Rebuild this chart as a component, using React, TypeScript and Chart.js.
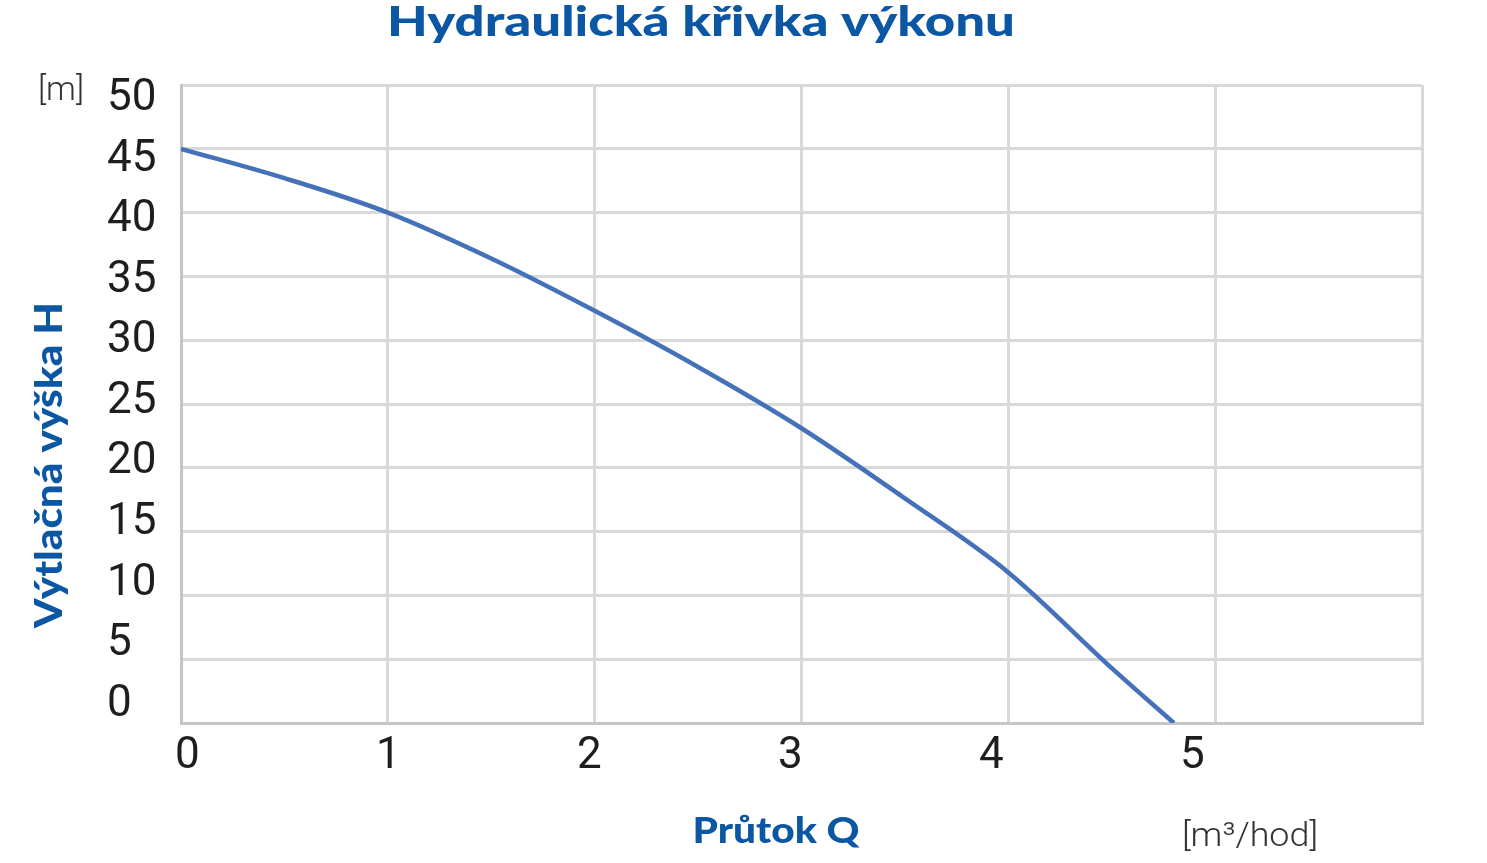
import React, { useEffect, useRef } from 'react';
import { Chart, registerables } from 'chart.js';

Chart.register(...registerables);

// Průtok Q [m³/hod]
const flowValues = [0, 0.5, 1, 1.5, 2, 2.5, 3, 3.5, 4, 4.5, 4.8];
// Výtlačná výška H [m]
const headValues = [45, 42.7, 40, 36.4, 32.3, 27.9, 23.1, 17.6, 11.8, 4.3, 0];

const xTickLabels = [0, 1, 2, 3, 4, 5];
const yTickLabels = [0, 5, 10, 15, 20, 25, 30, 35, 40, 45, 50];

const chartTitle = 'Hydraulická křivka výkonu';
const yTitle = 'Výtlačná výška H';
const xTitle = 'Průtok Q';
const yUnit = '[m]';
const xUnit = '[m³/hod]';

const BLUE = '#0b57a4';
const LINE_BLUE = '#4571b9';
const GRID = '#d9d9d9';
const AXIS = '#c6c6c6';
const TICK_FONT = { family: 'Roboto', size: 44, weight: 400 as const };

// draws a text squeezed/stretched to a given width
const drawText = (
  ctx: CanvasRenderingContext2D,
  text: string,
  x: number,
  y: number,
  width: number,
  font: string,
  color: string,
  angle = 0
) => {
  ctx.save();
  ctx.font = font;
  ctx.fillStyle = color;
  ctx.textAlign = 'center';
  ctx.textBaseline = 'alphabetic';
  ctx.translate(x, y);
  if (angle) ctx.rotate(angle);
  const w = ctx.measureText(text).width;
  ctx.scale(width / w, 1);
  ctx.fillText(text, 0, 0);
  ctx.restore();
};

const textPlugin = {
  id: 'texts',
  afterDraw(chart: Chart) {
    const ctx = chart.ctx;
    drawText(ctx, chartTitle, 701, 36, 628, '900 41px Lato', BLUE);
    drawText(ctx, yTitle, 62, 465, 326, '900 38px Lato', BLUE, -Math.PI / 2);
    drawText(ctx, xTitle, 776, 843, 167, '900 36px Lato', BLUE);
    drawText(ctx, yUnit, 61, 100, 46, '300 34px Roboto', '#333');
    drawText(ctx, xUnit, 1250, 846, 136, '300 34px Roboto', '#333');
  },
};

const App: React.FC = () => {
  const canvasRef = useRef<HTMLCanvasElement | null>(null);

  useEffect(() => {
    if (!canvasRef.current) return;

    const chart = new Chart(canvasRef.current, {
      type: 'line',
      data: {
        datasets: [
          {
            data: flowValues.map((q, i) => ({ x: q, y: headValues[i] })),
            borderColor: LINE_BLUE,
            borderWidth: 4.5,
            pointRadius: 0,
            cubicInterpolationMode: 'monotone',
            xAxisID: 'x',
            yAxisID: 'y',
          },
        ],
      },
      options: {
        animation: false,
        responsive: true,
        maintainAspectRatio: false,
        layout: { padding: { left: 107, right: 65, top: 85, bottom: 0 } },
        plugins: {
          legend: { display: false },
          tooltip: { enabled: false },
        },
        scales: {
          x: {
            type: 'linear',
            position: 'bottom',
            weight: 0,
            min: 0,
            max: 6,
            ticks: { display: false, stepSize: 1 },
            grid: { color: GRID, lineWidth: 3, drawTicks: false },
            border: { color: AXIS, width: 3 },
            afterFit: (s: any) => {
              s.height = 4;
            },
          },
          // separate axis only for the tick labels (they sit off the grid in the original)
          xLab: {
            type: 'linear',
            position: 'bottom',
            weight: 1,
            min: -0.032,
            max: 6.142,
            grid: { display: false, drawTicks: false },
            border: { display: false },
            ticks: { font: TICK_FONT, color: '#1e1e1e', padding: 4, maxRotation: 0 },
            afterBuildTicks: (s: any) => {
              s.ticks = xTickLabels.map((v) => ({ value: v }));
            },
            afterFit: (s: any) => {
              s.height = 136;
            },
          },
          y: {
            type: 'linear',
            position: 'left',
            weight: 0,
            min: 0,
            max: 50,
            ticks: { display: false, stepSize: 5 },
            grid: { color: GRID, lineWidth: 3, drawTicks: false },
            border: { color: AXIS, width: 3 },
            afterFit: (s: any) => {
              s.width = 4;
            },
          },
          yLab: {
            type: 'linear',
            position: 'left',
            weight: 1,
            min: -1.51,
            max: 51.17,
            grid: { display: false, drawTicks: false },
            border: { display: false },
            ticks: { font: TICK_FONT, color: '#1e1e1e', crossAlign: 'far' },
            afterBuildTicks: (s: any) => {
              s.ticks = yTickLabels.map((v) => ({ value: v }));
            },
            afterFit: (s: any) => {
              s.width = 70;
            },
          },
        },
      },
      plugins: [textPlugin],
    });

    return () => {
      chart.destroy();
    };
  }, []);

  return (
    <div style={{ position: 'fixed', left: 0, top: 0, width: 1487, height: 863, background: '#fff' }}>
      <canvas ref={canvasRef}></canvas>
    </div>
  );
};

export default App;
